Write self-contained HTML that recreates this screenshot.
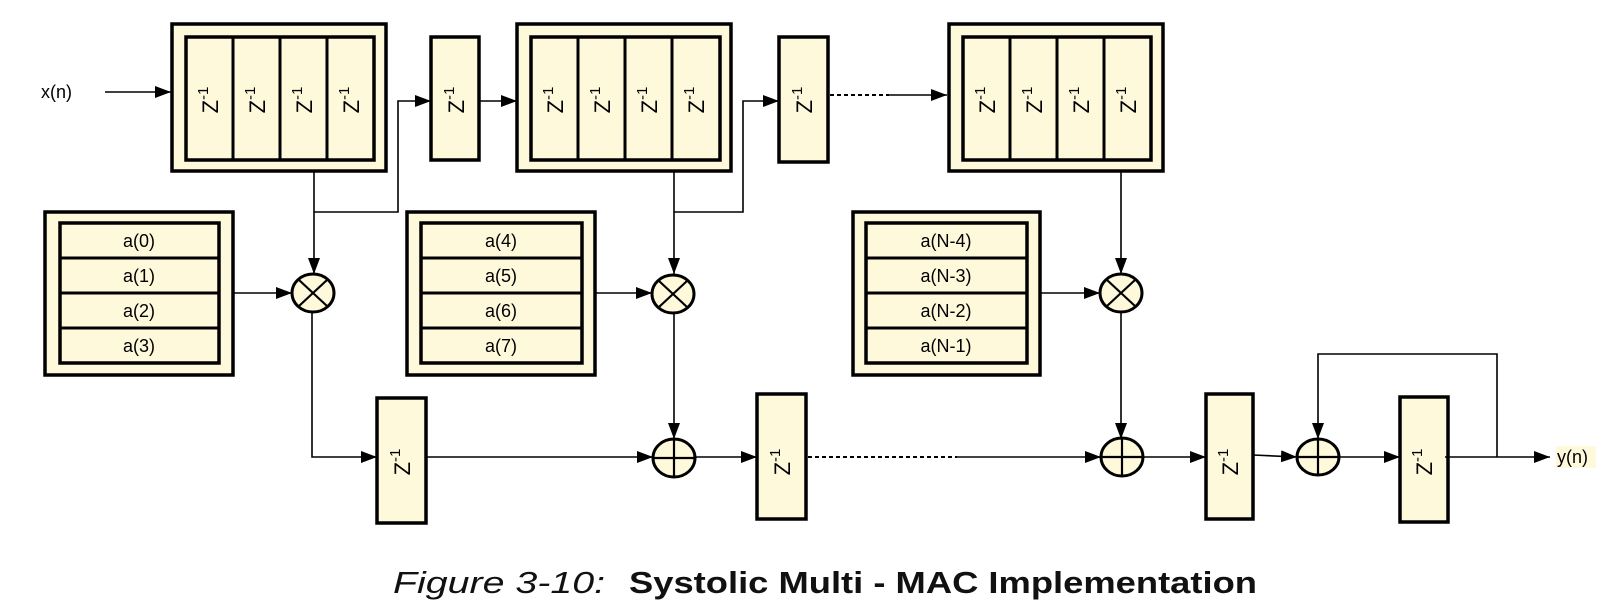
<!DOCTYPE html>
<html><head><meta charset="utf-8"><style>
html,body{margin:0;padding:0;background:#fff;}
svg{display:block;}
text{font-family:"Liberation Sans",sans-serif;}
</style></head><body>
<svg width="1602" height="605" viewBox="0 0 1602 605" xmlns="http://www.w3.org/2000/svg">
<defs>
<marker id="ah" markerWidth="16" markerHeight="12" refX="16" refY="6" orient="auto" markerUnits="userSpaceOnUse">
<path d="M0,0 L16,6 L0,12 Z" fill="#000"/>
</marker>
<g id="z">
<text font-size="22" text-anchor="middle" transform="rotate(-90)"><tspan>Z</tspan><tspan dy="-10" font-size="15">-1</tspan></text>
</g>
</defs>
<g stroke="#000" fill="#fff9dc">
<rect x="172" y="24" width="214" height="147" stroke-width="3.5"/>
<rect x="186" y="37" width="188" height="123" stroke-width="3.5"/>
<line x1="233" y1="37" x2="233" y2="160" stroke-width="3"/>
<line x1="280" y1="37" x2="280" y2="160" stroke-width="3"/>
<line x1="327" y1="37" x2="327" y2="160" stroke-width="3"/>
<rect x="431" y="37" width="48" height="123" stroke-width="3.5"/>
<rect x="517" y="24" width="214" height="147" stroke-width="3.5"/>
<rect x="531" y="37" width="189" height="123" stroke-width="3.5"/>
<line x1="578" y1="37" x2="578" y2="160" stroke-width="3"/>
<line x1="625" y1="37" x2="625" y2="160" stroke-width="3"/>
<line x1="672" y1="37" x2="672" y2="160" stroke-width="3"/>
<rect x="779" y="37" width="49" height="125" stroke-width="3.5"/>
<rect x="949" y="24" width="214" height="147" stroke-width="3.5"/>
<rect x="963" y="37" width="188" height="123" stroke-width="3.5"/>
<line x1="1010" y1="37" x2="1010" y2="160" stroke-width="3"/>
<line x1="1057" y1="37" x2="1057" y2="160" stroke-width="3"/>
<line x1="1104" y1="37" x2="1104" y2="160" stroke-width="3"/>
<rect x="45" y="212" width="188" height="163" stroke-width="3.5"/>
<rect x="60" y="223" width="159" height="140" stroke-width="3.5"/>
<rect x="407" y="212" width="188" height="163" stroke-width="3.5"/>
<rect x="421" y="223" width="161" height="140" stroke-width="3.5"/>
<rect x="853" y="212" width="187" height="163" stroke-width="3.5"/>
<rect x="866" y="223" width="161" height="140" stroke-width="3.5"/>
<g stroke-width="3">
<line x1="60" y1="258" x2="219" y2="258"/><line x1="60" y1="293" x2="219" y2="293"/><line x1="60" y1="328" x2="219" y2="328"/>
<line x1="421" y1="258" x2="582" y2="258"/><line x1="421" y1="293" x2="582" y2="293"/><line x1="421" y1="328" x2="582" y2="328"/>
<line x1="866" y1="258" x2="1027" y2="258"/><line x1="866" y1="293" x2="1027" y2="293"/><line x1="866" y1="328" x2="1027" y2="328"/>
</g>
<rect x="377" y="398" width="49" height="125" stroke-width="3.5"/>
<rect x="757" y="394" width="49" height="125" stroke-width="3.5"/>
<rect x="1206" y="394" width="47" height="125" stroke-width="3.5"/>
<rect x="1400" y="397" width="48" height="125" stroke-width="3.5"/>
</g>
<g stroke="#000" stroke-width="1.6" fill="none">
<line x1="105" y1="92" x2="171" y2="92" marker-end="url(#ah)"/>
<polyline points="314,171 314,274" marker-end="url(#ah)"/>
<polyline points="314,212 398,212 398,101 431,101" marker-end="url(#ah)"/>
<line x1="479" y1="101" x2="517" y2="101" marker-end="url(#ah)"/>
<polyline points="674,171 674,274" marker-end="url(#ah)"/>
<polyline points="674,212 743,212 743,101 779,101" marker-end="url(#ah)"/>
<line x1="830" y1="95" x2="889" y2="95" stroke-dasharray="4,3" stroke-width="2"/>
<line x1="889" y1="95" x2="947" y2="95" marker-end="url(#ah)"/>
<line x1="1121" y1="171" x2="1121" y2="274" marker-end="url(#ah)"/>
<line x1="233" y1="293" x2="292" y2="293" marker-end="url(#ah)"/>
<line x1="595" y1="293" x2="652" y2="293" marker-end="url(#ah)"/>
<line x1="1040" y1="293" x2="1100" y2="293" marker-end="url(#ah)"/>
<polyline points="312,312 312,457 377,457" marker-end="url(#ah)"/>
<line x1="674" y1="313" x2="674" y2="439" marker-end="url(#ah)"/>
<line x1="1121" y1="312" x2="1121" y2="439" marker-end="url(#ah)"/>
<line x1="426" y1="457" x2="653" y2="457" marker-end="url(#ah)"/>
<line x1="695" y1="457" x2="757" y2="457" marker-end="url(#ah)"/>
<line x1="808" y1="457" x2="957" y2="457" stroke-dasharray="4,3" stroke-width="2"/>
<line x1="957" y1="457" x2="1101" y2="457" stroke="#444" stroke-width="2" marker-end="url(#ah)"/>
<line x1="1143" y1="457" x2="1206" y2="457" marker-end="url(#ah)"/>
<line x1="1253" y1="455" x2="1297" y2="457" marker-end="url(#ah)"/>
<line x1="1339" y1="457" x2="1400" y2="457" marker-end="url(#ah)"/>
<line x1="1445" y1="457" x2="1550" y2="457" marker-end="url(#ah)"/>
<polyline points="1497,457 1497,354 1318,354 1318,439" marker-end="url(#ah)"/>
</g>
<g stroke="#000" stroke-width="3" fill="#fff9dc">
<ellipse cx="313" cy="293" rx="21" ry="19"/>
<ellipse cx="673" cy="294" rx="21" ry="19"/>
<ellipse cx="1121" cy="293" rx="21" ry="19"/>
<ellipse cx="674" cy="458" rx="21" ry="19"/>
<ellipse cx="1122" cy="457" rx="21" ry="19"/>
<ellipse cx="1318" cy="457" rx="21" ry="18"/>
</g>
<g stroke="#000" stroke-width="2.2">
<line x1="299" y1="280" x2="327" y2="306"/><line x1="327" y1="280" x2="299" y2="306"/>
<line x1="659" y1="281" x2="687" y2="307"/><line x1="687" y1="281" x2="659" y2="307"/>
<line x1="1107" y1="280" x2="1135" y2="306"/><line x1="1135" y1="280" x2="1107" y2="306"/>
<line x1="653" y1="458" x2="695" y2="458"/><line x1="674" y1="439" x2="674" y2="477"/>
<line x1="1101" y1="457" x2="1143" y2="457"/><line x1="1122" y1="438" x2="1122" y2="476"/>
<line x1="1297" y1="457" x2="1339" y2="457"/><line x1="1318" y1="439" x2="1318" y2="475"/>
</g>
<g fill="#000">
<use href="#z" x="218" y="100"/><use href="#z" x="265" y="100"/><use href="#z" x="312" y="100"/><use href="#z" x="359" y="100"/>
<use href="#z" x="464" y="100"/>
<use href="#z" x="563" y="100"/><use href="#z" x="610" y="100"/><use href="#z" x="657" y="100"/><use href="#z" x="704" y="100"/>
<use href="#z" x="812" y="100"/>
<use href="#z" x="995" y="100"/><use href="#z" x="1042" y="100"/><use href="#z" x="1089" y="100"/><use href="#z" x="1136" y="100"/>
<use href="#z" x="410" y="462"/>
<use href="#z" x="790" y="462"/>
<use href="#z" x="1238" y="462"/>
<use href="#z" x="1432" y="462"/>
</g>
<g font-size="18" text-anchor="middle" fill="#000">
<text x="139" y="247">a(0)</text><text x="139" y="282">a(1)</text><text x="139" y="317">a(2)</text><text x="139" y="352">a(3)</text>
<text x="501" y="247">a(4)</text><text x="501" y="282">a(5)</text><text x="501" y="317">a(6)</text><text x="501" y="352">a(7)</text>
<text x="946" y="247">a(N-4)</text><text x="946" y="282">a(N-3)</text><text x="946" y="317">a(N-2)</text><text x="946" y="352">a(N-1)</text>
</g>
<text x="41" y="98" font-size="18">x(n)</text>
<rect x="1556" y="446" width="40" height="22" fill="#fff9dc"/>
<text x="1557" y="463" font-size="18">y(n)</text>
<text x="393" y="593" font-size="31" font-style="italic" fill="#111" textLength="212" lengthAdjust="spacingAndGlyphs">Figure 3-10:</text>
<text x="629" y="593" font-size="31" font-weight="bold" fill="#111" textLength="628" lengthAdjust="spacingAndGlyphs">Systolic Multi - MAC Implementation</text>
</svg>
</body></html>
